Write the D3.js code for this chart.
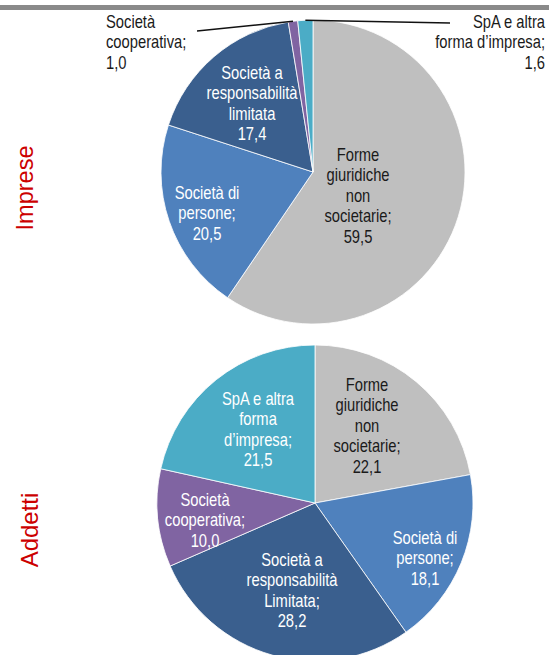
<!DOCTYPE html>
<html>
<head>
<meta charset="utf-8">
<script src="https://cdn.jsdelivr.net/npm/d3@7"></script>
<style>
  body { margin: 0; background: #fff; }
  svg { display: block; font-family: "Liberation Sans", Arial, sans-serif; }
</style>
</head>
<body>
<svg width="549" height="655"></svg>
<script>
// categories in drawing order (clockwise from 12 o'clock)
const categories = ['Forme giuridiche non societarie', 'Società di persone', 'Società a responsabilità limitata', 'Società cooperativa', 'SpA e altra forma d\'impresa'];
const impreseValues = [59.5, 20.5, 17.4, 1.0, 1.6];
const addettiValues = [22.1, 18.1, 28.2, 10.0, 21.5];

// label lines, as printed on the chart
const impreseLabels = [
  ['Forme', 'giuridiche', 'non', 'societarie;', '59,5'],
  ['Società di', 'persone;', '20,5'],
  ['Società a', 'responsabilità', 'limitata', '17,4'],
  ['Società', 'cooperativa;', '1,0'],
  ['SpA e altra', 'forma d\u2019impresa;', '1,6']
];
const addettiLabels = [
  ['Forme', 'giuridiche', 'non', 'societarie;', '22,1'],
  ['Società di', 'persone;', '18,1'],
  ['Società a', 'responsabilità', 'Limitata;', '28,2'],
  ['Società', 'cooperativa;', '10,0'],
  ['SpA e altra', 'forma', 'd\u2019impresa;', '21,5']
];

const svg = d3.select('svg');
const width = +svg.attr('width');

const color = d3.scaleOrdinal()
  .domain(categories)
  .range(['#BFBFBF', '#4F81BD', '#3A5F8E', '#8064A2', '#4BACC6']);
const textColor = d3.scaleOrdinal()
  .domain(categories)
  .range(['#1a1a1a', '#fff', '#fff', '#fff', '#fff']);

// grey band on top
svg.append('rect')
  .attr('x', 0).attr('y', 5)
  .attr('width', width).attr('height', 5)
  .attr('fill', '#8a8a8a');

const pie = d3.pie().sort(null).value(d => d.value);
const lineH = 20.5;

function drawPie(values, labels, cx, cy, r, labelPos) {
  const data = categories.map((c, i) => ({ cat: c, value: values[i], lines: labels[i] }));
  const arcs = pie(data);
  const arc = d3.arc().innerRadius(0).outerRadius(r);
  const g = svg.append('g').attr('transform', `translate(${cx},${cy})`);

  g.selectAll('path')
    .data(arcs)
    .enter().append('path')
      .attr('d', arc)
      .attr('fill', d => color(d.data.cat))
      .attr('stroke', '#fff')
      .attr('stroke-width', 1)
      .attr('stroke-opacity', 0.8);

  // labels, narrow Arial look
  arcs.forEach((d, i) => {
    const p = labelPos[i];
    const lg = svg.append('g')
      .attr('transform', `translate(${p.x},${p.y}) scale(0.82,1)`);
    lg.append('text')
      .attr('text-anchor', p.anchor || 'middle')
      .attr('font-size', 18)
      .attr('fill', p.outside ? '#1a1a1a' : textColor(d.data.cat))
      .selectAll('tspan')
      .data(d.data.lines)
      .enter().append('tspan')
        .attr('x', 0)
        .attr('y', (t, j) => j * lineH)
        .text(t => t);
    if (p.leader) {
      const a = (d.startAngle + d.endAngle) / 2;
      const ex = cx + r * Math.sin(a), ey = cy - r * Math.cos(a);
      svg.append('line')
        .attr('x1', ex).attr('y1', ey)
        .attr('x2', p.leader[0]).attr('y2', p.leader[1])
        .attr('stroke', '#111')
        .attr('stroke-width', 1.5);
    }
  });
}

drawPie(impreseValues, impreseLabels, 313, 172, 152, [
  { x: 358, y: 161 },
  { x: 207, y: 199 },
  { x: 252, y: 79 },
  { x: 106, y: 28, anchor: 'start', outside: true, leader: [197, 31] },
  { x: 545, y: 28, anchor: 'end', outside: true, leader: [450, 23] }
]);

drawPie(addettiValues, addettiLabels, 315, 503, 158, [
  { x: 367, y: 391 },
  { x: 425, y: 544 },
  { x: 292, y: 566 },
  { x: 205, y: 506 },
  { x: 258, y: 405 }
]);

// side titles
[['Imprese', 33, 188, 23.5], ['Addetti', 38, 530, 24]].forEach(t => {
  svg.append('text')
    .attr('transform', `translate(${t[1]},${t[2]}) rotate(-90)`)
    .attr('text-anchor', 'middle')
    .attr('font-size', t[3])
    .attr('fill', '#CC0000')
    .text(t[0]);
});
</script>
</body>
</html>
